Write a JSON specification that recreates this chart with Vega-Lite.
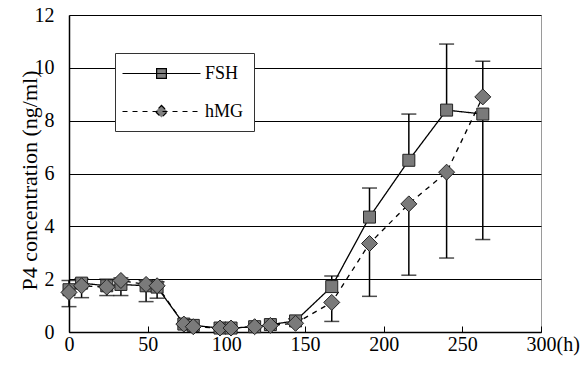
{
  "$schema": "https://vega.github.io/schema/vega-lite/v6.json",
  "width": 472,
  "height": 317,
  "autosize": {"type": "none"},
  "padding": {"left": 69, "top": 15, "right": 47, "bottom": 35},
  "background": "white",
  "config": {
    "view": {"stroke": "#9a9a9a", "strokeWidth": 1},
    "font": "Liberation Serif"
  },
  "data": {
    "values": [
      {"s": "FSH", "t": 0, "v": 1.6, "err": 1.95},
      {"s": "FSH", "t": 8, "v": 1.85, "err": 2.0},
      {"s": "FSH", "t": 24, "v": 1.75, "err": 2.0},
      {"s": "FSH", "t": 33, "v": 1.8, "err": 2.05},
      {"s": "FSH", "t": 49, "v": 1.75, "err": 1.95},
      {"s": "FSH", "t": 56, "v": 1.7, "err": 1.9},
      {"s": "FSH", "t": 73, "v": 0.3, "err": null},
      {"s": "FSH", "t": 79, "v": 0.25, "err": null},
      {"s": "FSH", "t": 96, "v": 0.15, "err": null},
      {"s": "FSH", "t": 103, "v": 0.15, "err": null},
      {"s": "FSH", "t": 118, "v": 0.2, "err": null},
      {"s": "FSH", "t": 128, "v": 0.28, "err": null},
      {"s": "FSH", "t": 144, "v": 0.42, "err": 0.5},
      {"s": "FSH", "t": 167, "v": 1.72, "err": 2.12},
      {"s": "FSH", "t": 191, "v": 4.35, "err": 5.45},
      {"s": "FSH", "t": 216, "v": 6.5, "err": 8.25},
      {"s": "FSH", "t": 240, "v": 8.4, "err": 10.9},
      {"s": "FSH", "t": 263, "v": 8.25, "err": 3.5},
      {"s": "hMG", "t": 0, "v": 1.5, "err": 0.96},
      {"s": "hMG", "t": 8, "v": 1.75, "err": 1.3},
      {"s": "hMG", "t": 24, "v": 1.7, "err": 1.38},
      {"s": "hMG", "t": 33, "v": 1.95, "err": 1.38},
      {"s": "hMG", "t": 49, "v": 1.8, "err": 1.15},
      {"s": "hMG", "t": 56, "v": 1.75, "err": 1.28},
      {"s": "hMG", "t": 73, "v": 0.3, "err": null},
      {"s": "hMG", "t": 79, "v": 0.2, "err": null},
      {"s": "hMG", "t": 96, "v": 0.15, "err": null},
      {"s": "hMG", "t": 103, "v": 0.15, "err": null},
      {"s": "hMG", "t": 118, "v": 0.2, "err": null},
      {"s": "hMG", "t": 128, "v": 0.25, "err": null},
      {"s": "hMG", "t": 144, "v": 0.33, "err": null},
      {"s": "hMG", "t": 167, "v": 1.12, "err": 0.4},
      {"s": "hMG", "t": 191, "v": 3.35, "err": 1.35},
      {"s": "hMG", "t": 216, "v": 4.85, "err": 2.15},
      {"s": "hMG", "t": 240, "v": 6.05, "err": 2.8},
      {"s": "hMG", "t": 263, "v": 8.9, "err": 10.25}
    ]
  },
  "encoding": {
    "x": {
      "field": "t", "type": "quantitative",
      "scale": {"domain": [0, 300], "nice": false},
      "axis": {
        "values": [0, 50, 100, 150, 200, 250, 300],
        "title": null,
        "grid": false,
        "domainColor": "black", "domainWidth": 1.5,
        "tickColor": "black", "tickSize": -6, "tickWidth": 1,
        "labelFont": "Liberation Serif", "labelFontSize": 20, "labelColor": "black",
        "labelPadding": 8, "labelOverlap": false, "labelFlush": false,
        "labelExpr": "datum.value === 300 ? '300(h)' : datum.label",
        "labelAlign": {"condition": {"test": "datum.value === 300", "value": "left"}, "value": "center"},
        "labelOffset": {"condition": {"test": "datum.value === 300", "value": -15}, "value": 0}
      }
    },
    "y": {
      "field": "v", "type": "quantitative",
      "scale": {"domain": [0, 12], "nice": false},
      "axis": {
        "values": [0, 2, 4, 6, 8, 10, 12],
        "title": "P4 concentration (ng/ml)",
        "titleFont": "Liberation Serif", "titleFontSize": 22, "titleFontWeight": "normal", "titleColor": "black",
        "titleX": -40, "titleY": 165, "titleAngle": -90, "titleBaseline": "middle", "titleAlign": "center",
        "grid": true, "gridColor": "black", "gridWidth": 1,
        "domainColor": "black", "domainWidth": 1.5,
        "ticks": false,
        "labelFont": "Liberation Serif", "labelFontSize": 20, "labelColor": "black",
        "labelPadding": 15
      }
    }
  },
  "layer": [
    {
      "transform": [{"filter": "datum.err != null"}],
      "mark": {"type": "rule", "color": "black", "strokeWidth": 1.5},
      "encoding": {"y2": {"field": "err"}}
    },
    {
      "transform": [{"filter": "datum.err != null"}],
      "mark": {"type": "tick", "orient": "horizontal", "color": "black", "size": 15, "thickness": 1.5},
      "encoding": {"y": {"field": "err", "type": "quantitative"}}
    },
    {
      "mark": {"type": "line", "color": "black", "strokeWidth": 1.3},
      "encoding": {
        "strokeDash": {
          "field": "s", "type": "nominal",
          "scale": {"domain": ["FSH", "hMG"], "range": [[1, 0], [5, 5]]},
          "legend": {
            "title": null,
            "orient": "none", "legendX": 46, "legendY": 38,
            "padding": 10,
            "strokeColor": "#333", "fillColor": "white",
            "symbolSize": 380, "symbolOffset": 26, "labelOffset": 33,
            "rowPadding": 18,
            "labelFont": "Liberation Serif", "labelFontSize": 18, "labelColor": "black",
            "symbolStrokeWidth": 1.2, "symbolStrokeColor": "black", "symbolFillColor": "#808080",
            "encode": {
              "symbols": {
                "update": {
                  "shape": {"signal": "datum.value === 'FSH' ? 'M-4,0H4M-0.5,-0.5H0.5V0.5H-0.5Z' : 'M-4,0H4M0,-0.62L0.62,0L0,0.62L-0.62,0Z'"},
                  "fill": {"value": "#808080"},
                  "stroke": {"value": "black"},
                  "size": {"value": 380}
                }
              }
            }
          }
        }
      }
    },
    {
      "transform": [{"filter": "datum.s === 'FSH'"}],
      "mark": {"type": "point", "shape": "square", "size": 144, "filled": true, "fill": "#7a7a7a", "stroke": "#222", "strokeWidth": 1, "opacity": 1}
    },
    {
      "transform": [{"filter": "datum.s === 'hMG'"}],
      "mark": {"type": "point", "shape": "diamond", "size": 256, "filled": true, "fill": "#7a7a7a", "stroke": "#222", "strokeWidth": 1, "opacity": 1}
    }
  ]
}
